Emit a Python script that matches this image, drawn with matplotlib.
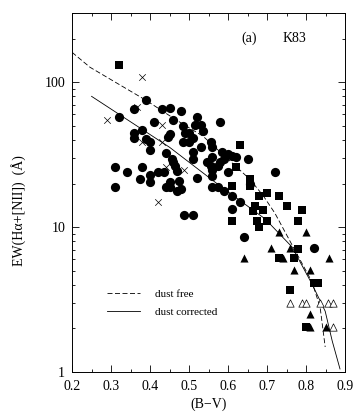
import matplotlib
matplotlib.use("Agg")
import matplotlib.pyplot as plt
from matplotlib.ticker import FuncFormatter, LogLocator, MultipleLocator, NullFormatter

plt.rcParams["font.family"] = "serif"
plt.rcParams["font.serif"] = ["Liberation Serif", "DejaVu Serif"]

# filled circles
circ_x = [0.39, 0.36, 0.43, 0.45, 0.48, 0.52, 0.32, 0.41, 0.46, 0.485, 0.515, 0.53,
          0.38, 0.36, 0.36, 0.39, 0.40, 0.445, 0.485, 0.51, 0.40, 0.44, 0.51, 0.51,
          0.46, 0.465, 0.31, 0.38, 0.34, 0.40, 0.42, 0.435, 0.47, 0.375, 0.40, 0.45,
          0.475, 0.44, 0.47, 0.31, 0.52, 0.58, 0.535, 0.50, 0.555, 0.53, 0.56, 0.56,
          0.585, 0.60, 0.61, 0.59, 0.62, 0.65, 0.555, 0.575, 0.60, 0.56, 0.72, 0.655,
          0.56, 0.575, 0.59, 0.61, 0.63, 0.61, 0.64, 0.82, 0.487, 0.51, 0.48,
          0.49, 0.455, 0.45, 0.545, 0.56, 0.58, 0.50, 0.45]
circ_y = [75, 65, 65, 66, 63, 58, 58, 53, 55, 50, 51, 51,
          47, 45, 41, 40.5, 38.6, 42, 39, 41, 34, 32.4, 33, 29.4,
          28, 26.4, 26, 26, 24, 23, 24, 24, 24.3, 21.4, 20.4, 20.4,
          20.8, 19, 17.7, 19, 22, 53, 46, 45, 38.6, 36, 36, 30.4,
          33, 32, 31, 29.4, 30.4, 29.4, 26.4, 26.4, 24, 22.5, 24, 19.8,
          19, 19, 17.7, 16.4, 15, 13.3, 8.5, 7.2, 12.1, 12.1, 18.3,
          45, 29.4, 19, 28, 25, 28, 39, 44]

# filled squares
sq_x = [0.32, 0.63, 0.62, 0.655, 0.61, 0.655, 0.70, 0.68, 0.73, 0.75, 0.79, 0.78,
        0.61, 0.67, 0.69, 0.665, 0.675, 0.70, 0.68, 0.78, 0.73, 0.77, 0.82, 0.83,
        0.76, 0.80]
sq_y = [131, 37, 26, 21.4, 19.2, 19.2, 17.1, 16.4, 16.4, 14, 13.1, 11,
        11, 14, 13.1, 12.9, 11, 11, 10, 7.05, 6.1, 6.1, 4.1, 4.1,
        3.7, 2.04]

# filled triangles
tri_x = [0.73, 0.80, 0.71, 0.76, 0.64, 0.74, 0.86, 0.77, 0.81, 0.81, 0.81, 0.85]
tri_y = [9.2, 9.2, 7.2, 7.2, 6.1, 6.1, 6.1, 5.1, 5.1, 2.5, 2.04, 2.04]

# open triangles
otri_x = [0.76, 0.79, 0.80, 0.835, 0.855, 0.87, 0.87]
otri_y = [3.0, 3.0, 3.0, 3.0, 3.0, 3.0, 2.04]

# crosses
cross_x = [0.38, 0.29, 0.367, 0.43, 0.38, 0.43, 0.44, 0.487, 0.42]
cross_y = [108, 55, 67, 51, 38.6, 38.6, 26, 24.7, 15]

# model curves
free_x = [0.2, 0.246, 0.39, 0.464, 0.536, 0.656, 0.69, 0.72, 0.777, 0.815, 0.836, 0.849]
free_y = [161, 127, 75, 55.6, 42.4, 21.4, 16.5, 12.5, 6.5, 4.2, 2.8, 1.49]
corr_x = [0.25, 0.45, 0.58, 0.695, 0.764, 0.815, 0.849, 0.867, 0.887]
corr_y = [80, 35.6, 19.2, 11.4, 7.3, 4.06, 2.63, 1.64, 1.05]

fig = plt.figure(figsize=(3.64, 4.12), dpi=100)
ax = fig.add_axes([0.198, 0.097, 0.75, 0.871])

ax.plot(free_x, free_y, color="black", lw=0.6, dashes=(6, 3), label="dust free")
ax.plot(corr_x, corr_y, color="black", lw=0.6, label="dust corrected")

ax.scatter(circ_x, circ_y, s=44, marker="o", color="black", linewidths=0, zorder=3)
ax.scatter(sq_x, sq_y, s=28, marker="s", color="black", linewidths=0, zorder=3)
ax.scatter(tri_x, tri_y, s=34, marker="^", color="black", linewidths=0, zorder=3)
ax.scatter(otri_x, otri_y, s=28, marker="^", facecolors="white", edgecolors="black",
           linewidths=0.5, zorder=3)
ax.scatter(cross_x, cross_y, s=22, marker="x", color="black", linewidths=0.5, zorder=3)

ax.set_yscale("log")
ax.set_xlim(0.2, 0.9)
ax.set_ylim(1, 300)
ax.xaxis.set_major_locator(MultipleLocator(0.1))
ax.xaxis.set_minor_locator(MultipleLocator(0.05))
ax.xaxis.set_major_formatter(FuncFormatter(lambda v, _: f"{v:.1f}"))
ax.yaxis.set_major_locator(LogLocator(base=10))
ax.yaxis.set_minor_locator(LogLocator(base=10, subs=range(2, 10)))
ax.yaxis.set_major_formatter(FuncFormatter(lambda v, _: f"{v:g}"))
ax.yaxis.set_minor_formatter(NullFormatter())

ax.tick_params(which="both", direction="in", top=True, right=True, labelsize=10, width=0.6)
ax.tick_params(which="major", length=5)
ax.tick_params(which="minor", length=2.5)
ax.tick_params(axis="x", pad=6)
ax.tick_params(axis="y", pad=5)
for sp in ax.spines.values():
    sp.set_linewidth(0.7)

ax.set_xlabel("(B\u2212V)", fontsize=10, labelpad=3)
ax.set_ylabel("EW(H\u03b1+[NII])  (\u00c5)", fontsize=10)
ax.yaxis.set_label_coords(-0.17, 0.45)

ax.text(0.62, 0.92, "(a)", transform=ax.transAxes, fontsize=10)
ax.text(0.77, 0.92, "K83", transform=ax.transAxes, fontsize=10)

ax.legend(loc="upper left", bbox_to_anchor=(0.128, 0.232), frameon=False, fontsize=8,
          handlelength=3.0, handletextpad=1.35, labelspacing=0.75, borderpad=0,
          borderaxespad=0)

fig.savefig("out.png", dpi=100)
